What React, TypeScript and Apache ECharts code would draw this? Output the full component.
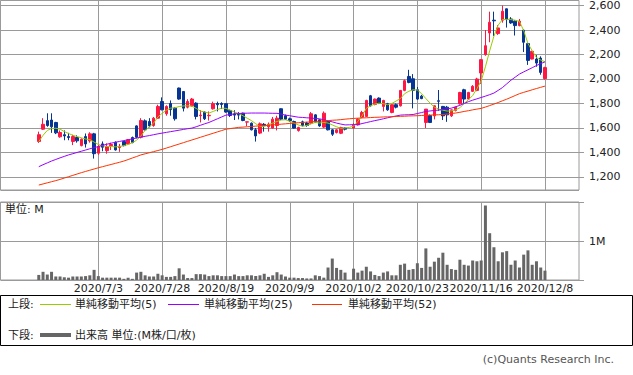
import React, { useEffect, useRef } from 'react';
import * as echarts from 'echarts';

const dates = [
  '2020/6/15','2020/6/16','2020/6/17','2020/6/18','2020/6/19','2020/6/22','2020/6/23','2020/6/24','2020/6/25','2020/6/26',
  '2020/6/29','2020/6/30','2020/7/1','2020/7/2','2020/7/3','2020/7/6','2020/7/7','2020/7/8','2020/7/9','2020/7/10',
  '2020/7/13','2020/7/14','2020/7/15','2020/7/16','2020/7/17','2020/7/20','2020/7/21','2020/7/22','2020/7/27','2020/7/28',
  '2020/7/29','2020/7/30','2020/7/31','2020/8/3','2020/8/4','2020/8/5','2020/8/6','2020/8/7','2020/8/11','2020/8/12',
  '2020/8/13','2020/8/14','2020/8/17','2020/8/18','2020/8/19','2020/8/20','2020/8/21','2020/8/24','2020/8/25','2020/8/26',
  '2020/8/27','2020/8/28','2020/8/31','2020/9/1','2020/9/2','2020/9/3','2020/9/4','2020/9/7','2020/9/8','2020/9/9',
  '2020/9/10','2020/9/11','2020/9/14','2020/9/15','2020/9/16','2020/9/17','2020/9/18','2020/9/23','2020/9/24','2020/9/25',
  '2020/9/28','2020/9/29','2020/9/30','2020/10/1','2020/10/2','2020/10/5','2020/10/6','2020/10/7','2020/10/8','2020/10/9',
  '2020/10/12','2020/10/13','2020/10/14','2020/10/15','2020/10/16','2020/10/19','2020/10/20','2020/10/21','2020/10/22','2020/10/23',
  '2020/10/26','2020/10/27','2020/10/28','2020/10/29','2020/10/30','2020/11/2','2020/11/4','2020/11/5','2020/11/6','2020/11/9',
  '2020/11/10','2020/11/11','2020/11/12','2020/11/13','2020/11/16','2020/11/17','2020/11/18','2020/11/19','2020/11/20','2020/11/24',
  '2020/11/25','2020/11/26','2020/11/27','2020/11/30','2020/12/1','2020/12/2','2020/12/3','2020/12/4','2020/12/7','2020/12/8',
];

const tickDates = ['2020/7/3', '2020/7/28', '2020/8/19', '2020/9/9', '2020/10/2', '2020/10/23', '2020/11/16', '2020/12/8'];
const priceTicks = [1200, 1400, 1600, 1800, 2000, 2200, 2400, 2600];

// [open, close, low, high]
const ohlc: (number[] | null)[] = [
  [1490,1545,1478,1570],[1590,1630,1585,1680],[1660,1620,1610,1720],[1665,1610,1560,1720],[1645,1560,1550,1650],
  [1528,1563,1520,1580],[1545,1535,1500,1580],[1530,1522,1500,1560],[1490,1530,1460,1545],[1522,1495,1480,1540],
  [1456,1508,1450,1515],[1530,1470,1440,1555],[1495,1552,1480,1565],[1552,1390,1350,1560],[1394,1448,1380,1460],
  [1470,1443,1410,1490],[1415,1448,1390,1475],[1455,1465,1420,1480],[1484,1421,1415,1490],[1440,1450,1405,1470],
  [1489,1456,1450,1495],[1470,1503,1465,1510],[1522,1481,1475,1530],[1617,1525,1515,1622],[1525,1661,1515,1680],
  [1658,1585,1580,1670],[1653,1617,1605,1680],[1620,1680,1610,1690],[1680,1776,1675,1790],[1816,1748,1745,1850],
  [1716,1776,1700,1785],[1800,1750,1700,1825],[1762,1675,1660,1770],[1926,1836,1830,1930],[1898,1762,1735,1900],
  [1770,1816,1760,1835],[1781,1836,1775,1845],[1803,1694,1670,1810],[1700,1705,1645,1745],[1730,1675,1665,1735],
  [1700,1703,1660,1735],[1757,1798,1750,1815],[1800,1790,1735,1815],[1800,1792,1755,1810],[1798,1730,1725,1800],
  [1743,1702,1690,1750],[1715,1705,1665,1745],[1712,1705,1670,1730],[1721,1661,1655,1725],[1648,1650,1615,1650],
  [1639,1585,1580,1645],[1585,1535,1489,1600],[1558,1634,1550,1645],[1630,1620,1570,1640],[1610,1630,1570,1645],
  [1599,1672,1595,1690],[1620,1680,1580,1700],[1757,1672,1665,1760],[1700,1672,1665,1710],[1675,1660,1650,1685],
  [1653,1599,1595,1660],[1579,1604,1570,1610],[1650,1620,1612,1660],[1640,1620,1610,1650],[1639,1716,1630,1730],
  [1707,1647,1640,1712],[1667,1617,1610,1670],[1607,1721,1600,1735],[1653,1585,1580,1660],[1585,1549,1535,1590],
  [1563,1585,1555,1590],[1557,1604,1550,1610],[1600,1590,1580,1605],null,[1600,1625,1595,1640],
  [1625,1672,1620,1680],[1688,1727,1680,1740],[1694,1825,1690,1830],[1863,1781,1775,1870],[1792,1836,1785,1840],
  [1844,1803,1795,1850],[1776,1825,1735,1830],[1798,1748,1740,1805],[1727,1790,1720,1795],[1790,1770,1760,1800],
  [1781,1907,1775,1910],[1907,1986,1900,1995],[2021,1972,1965,2075],[2002,1907,1760,2040],[1912,1836,1830,1935],
  [1860,1840,1835,1870],[1645,1754,1600,1754],[1702,1645,1640,1710],[1699,1781,1670,1785],[1822,1818,1740,1910],
  [1776,1699,1665,1780],[1770,1707,1650,1780],[1699,1748,1690,1750],[1743,1770,1735,1775],[1798,1890,1790,1895],
  [1912,1836,1800,1920],[1836,1890,1830,1895],[1899,1940,1895,1950],[1907,2000,1900,2010],[2049,2158,1960,2160],
  [2199,2272,2190,2400],[2376,2463,2300,2550],[2480,2475,2350,2550],[2371,2417,2360,2440],[2480,2553,2460,2600],
  [2573,2485,2420,2575],[2490,2458,2450,2505],[2472,2436,2355,2480],[2436,2472,2430,2490],[2398,2300,2220,2405],
  [2289,2152,2115,2295],[2163,2226,2160,2230],[2163,2130,2100,2195],[2171,2054,2035,2185],[2003,2093,1995,2100],
];

const ma5 = [
  1489,1540,1580,1595,1598,1590,1571,1555,1540,1530,
  1520,1510,1505,1485,1465,1455,1448,1448,1446,1448,
  1456,1465,1480,1500,1535,1580,1610,1640,1690,1720,
  1745,1762,1765,1775,1780,1781,1778,1760,1738,1730,
  1722,1735,1750,1762,1760,1745,1730,1718,1700,1680,
  1660,1635,1612,1612,1626,1640,1653,1665,1667,1655,
  1640,1625,1614,1620,1634,1645,1640,1645,1640,1625,
  1610,1598,1600,1605,1615,1653,1700,1760,1781,1795,
  1803,1798,1790,1800,1820,1840,1880,1900,1912,1910,
  1880,1840,1803,1770,1755,1745,1738,1740,1748,1765,
  1800,1830,1865,1920,1985,2100,2230,2350,2440,2485,
  2487,2485,2480,2470,2395,2290,2230,2175,2155,2140,
];

const ma25 = [
  1284,1300,1315,1330,1343,1356,1368,1380,1390,1400,
  1410,1420,1430,1439,1448,1458,1467,1476,1483,1490,
  1497,1504,1511,1518,1525,1532,1538,1545,1552,1558,
  1564,1570,1576,1582,1588,1594,1599,1610,1622,1634,
  1645,1660,1675,1690,1705,1710,1715,1718,1720,1721,
  1722,1722,1722,1722,1721,1720,1720,1713,1705,1700,
  1694,1688,1686,1683,1681,1678,1675,1667,1658,1650,
  1640,1632,1625,1626,1627,1628,1636,1644,1652,1660,
  1667,1675,1683,1691,1698,1705,1707,1708,1710,1718,
  1726,1735,1739,1743,1746,1750,1756,1762,1773,1785,
  1800,1815,1827,1838,1849,1860,1872,1885,1907,1930,
  1960,1990,2015,2040,2058,2075,2092,2110,2125,2140,
];

const ma52 = [
  1134,1143,1152,1161,1170,1180,1191,1202,1213,1224,
  1235,1245,1255,1265,1275,1284,1293,1302,1311,1320,
  1330,1342,1355,1367,1380,1389,1398,1407,1416,1425,
  1436,1447,1458,1469,1480,1491,1502,1513,1524,1535,
  1546,1557,1568,1579,1590,1595,1600,1605,1607,1610,
  1612,1615,1617,1620,1622,1625,1628,1631,1634,1637,
  1640,1643,1645,1648,1650,1653,1655,1658,1660,1663,
  1665,1668,1672,1675,1678,1680,1682,1683,1685,1687,
  1688,1690,1691,1692,1694,1695,1696,1698,1699,1700,
  1702,1704,1705,1707,1708,1710,1714,1718,1722,1728,
  1735,1741,1748,1754,1760,1771,1783,1795,1808,1822,
  1835,1850,1865,1880,1891,1901,1912,1922,1932,1942,
];

// volume in millions
const volume = [
  0.13,0.21,0.14,0.21,0.09,0.09,0.07,0.06,0.09,0.09,
  0.09,0.10,0.12,0.26,0.10,0.06,0.06,0.06,0.06,0.06,
  0.03,0.06,0.03,0.19,0.21,0.12,0.09,0.09,0.16,0.12,
  0.08,0.08,0.10,0.30,0.14,0.05,0.05,0.15,0.15,0.14,
  0.10,0.12,0.12,0.10,0.10,0.10,0.14,0.10,0.10,0.12,
  0.12,0.10,0.12,0.16,0.08,0.12,0.20,0.14,0.09,0.06,
  0.06,0.05,0.05,0.04,0.04,0.12,0.10,0.06,0.32,0.55,
  0.31,0.26,0.19,0,0.29,0.19,0.24,0.34,0.22,0.13,
  0.10,0.19,0.22,0.12,0.12,0.39,0.42,0.26,0.28,0.43,
  0.31,0.81,0.34,0.47,0.57,0.70,0.39,0.28,0.26,0.52,
  0.39,0.37,0.50,0.48,0.50,1.91,1.20,0.84,0.48,0.71,
  0.74,0.39,0.50,0.32,0.65,0.76,0.39,0.48,0.32,0.24,
];

const UP = '#ff1744';
const DOWN = '#063594';
const FONT = "'DejaVu Sans', 'Noto Sans CJK JP', sans-serif";
const PAD_L = 9;
const PAD_R = 8;

export default function App() {
  const ref = useRef<HTMLDivElement>(null);
  useEffect(() => {
    document.body.style.margin = '0';
    const chart = echarts.init(ref.current!, null, { renderer: 'svg' });
    const padL = Array.from({ length: PAD_L }, (_, i) => `_l${i}`);
    const padR = Array.from({ length: PAD_R }, (_, i) => `_r${i}`);
    const cats = [...padL, ...dates, ...padR];
    const padVals = (arr: any[]) => [...padL.map(() => '-'), ...arr, ...padR.map(() => '-')];
    const candles = padVals(ohlc.map((d) => (d ? d : '-')));
    const vols = padVals(volume.map((v) => (v > 0 ? v : '-')));
    const tickSet = new Set(tickDates);
    const showAt = (_i: number, v: string) => tickSet.has(v);
    const gridLine = { show: true, interval: showAt, lineStyle: { color: '#9a9a9a', width: 1 } };
    const txt = (x: number, y: number, text: string, extra: any = {}) => ({
      type: 'text', x, y, silent: true,
      style: { text, fill: '#222', font: `11px ${FONT}`, align: 'left', verticalAlign: 'middle', textAlign: 'left', textVerticalAlign: 'middle', ...extra },
    });
    const ln = (x1: number, x2: number, y: number, stroke: string, w = 1) => ({
      type: 'line', silent: true, shape: { x1, y1: y, x2, y2: y }, style: { stroke, lineWidth: w },
    });

    chart.setOption({
      animation: false,
      textStyle: { fontFamily: FONT },
      grid: [
        { left: 0.5, top: 0.5, width: 578.5, height: 189.5, show: true, borderColor: '#9a9a9a', borderWidth: 1 },
        { left: 0.5, top: 202, width: 578.5, height: 78, show: true, borderColor: '#9a9a9a', borderWidth: 1 },
      ],
      xAxis: [
        {
          type: 'category', gridIndex: 0, data: cats, boundaryGap: false,
          axisLine: { show: false }, axisTick: { show: false }, axisLabel: { show: false },
          splitLine: gridLine,
        },
        {
          type: 'category', gridIndex: 1, data: cats, boundaryGap: false,
          axisLine: { show: false }, axisTick: { show: false },
          axisLabel: { show: true, interval: showAt, color: '#222', fontSize: 11, margin: 3, fontFamily: FONT },
          splitLine: gridLine,
        },
      ],
      yAxis: [
        {
          type: 'value', gridIndex: 0, position: 'right', min: 1093.5, max: 2641, splitNumber: 8,
          axisLine: { show: false },
          axisTick: { show: true, length: 5, lineStyle: { color: '#9a9a9a' } },
          axisLabel: {
            margin: 10, fontSize: 11, color: '#222', fontFamily: FONT, showMinLabel: false, showMaxLabel: false,
            formatter: (v: number) => (priceTicks.includes(Math.round(v * 1000) / 1000) ? v.toLocaleString('en-US') : ''),
          },
          splitLine: { show: true, lineStyle: { color: '#9a9a9a', width: 1 } },
        },
        {
          type: 'value', gridIndex: 1, position: 'right', min: 0, max: 2, interval: 1,
          axisLine: { show: false },
          axisTick: { show: true, length: 5, lineStyle: { color: '#9a9a9a' } },
          axisLabel: { margin: 10, fontSize: 11, color: '#222', fontFamily: FONT, formatter: (v: number) => (v === 1 ? '1M' : '') },
          splitLine: { show: true, lineStyle: { color: '#9a9a9a', width: 1 } },
        },
      ],
      series: [
        {
          type: 'candlestick', xAxisIndex: 0, yAxisIndex: 0, data: candles, barWidth: 3,
          itemStyle: { color: UP, color0: DOWN, borderColor: UP, borderColor0: DOWN, borderWidth: 1 },
        },
        { type: 'line', xAxisIndex: 0, yAxisIndex: 0, data: padVals(ma5), symbol: 'none', lineStyle: { color: '#99cc00', width: 1 } },
        { type: 'line', xAxisIndex: 0, yAxisIndex: 0, data: padVals(ma25), symbol: 'none', lineStyle: { color: '#9900ff', width: 1 } },
        { type: 'line', xAxisIndex: 0, yAxisIndex: 0, data: padVals(ma52), symbol: 'none', lineStyle: { color: '#ff3300', width: 1 } },
        { type: 'bar', xAxisIndex: 1, yAxisIndex: 1, data: vols, barWidth: 3, itemStyle: { color: '#666666' } },
      ],
      graphic: [
        txt(5, 209, '単位: M'),
        { type: 'rect', silent: true, shape: { x: 0.5, y: 295.5, width: 632, height: 50 }, style: { fill: 'none', stroke: '#000', lineWidth: 1 } },
        txt(8, 304, '上段:'),
        ln(40, 71, 304.5, '#99cc00'),
        txt(75, 304, '単純移動平均(5)'),
        ln(168, 199, 304.5, '#9900ff'),
        txt(204, 304, '単純移動平均(25)'),
        ln(312, 342, 304.5, '#ff3300'),
        txt(348, 304, '単純移動平均(52)'),
        txt(8, 335, '下段:'),
        ln(40, 71, 335, '#666666', 4),
        txt(75, 335, '出来高 単位:(M株/口/枚)'),
        txt(614, 359, '(c)Quants Research Inc.', { fill: '#555', align: 'right', textAlign: 'right' }),
      ],
    });
    return () => chart.dispose();
  }, []);
  return <div ref={ref} style={{ width: 633, height: 375, background: '#fff' }} />;
}
